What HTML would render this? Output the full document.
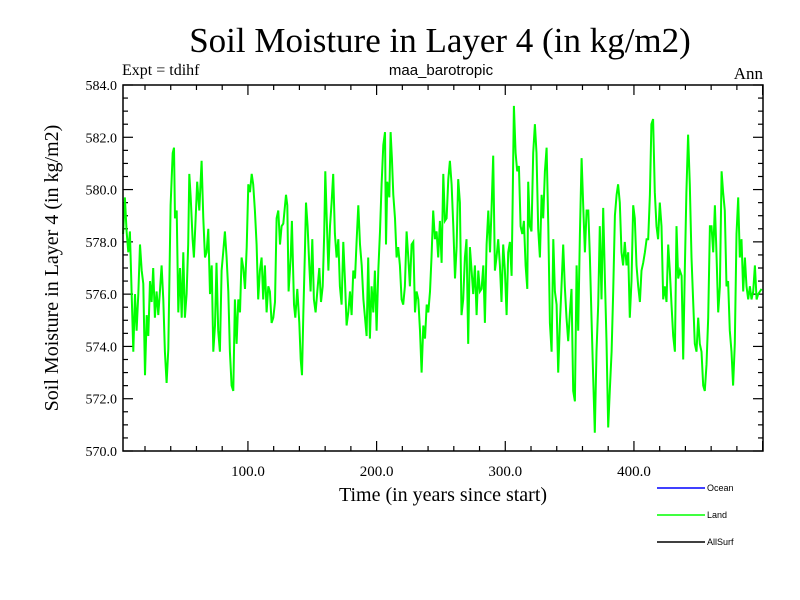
<!DOCTYPE html>
<html><head><meta charset="utf-8"><style>
body{margin:0;background:#fff;}
svg{display:block;}
text{font-family:"Liberation Serif",serif;fill:#000;}
.sans{font-family:"Liberation Sans",sans-serif;}
</style></head><body>
<svg id="chart" width="800" height="600" viewBox="0 0 800 600">
<text x="440" y="52" font-size="35" text-anchor="middle">Soil Moisture in Layer 4 (in kg/m2)</text>
<text x="122" y="75" font-size="16">Expt = tdihf</text>
<text x="441" y="75" font-size="15" text-anchor="middle" class="sans">maa_barotropic</text>
<text x="763" y="79" font-size="17" text-anchor="end">Ann</text>
<text transform="translate(58,268) rotate(-90)" font-size="20" text-anchor="middle">Soil Moisture in Layer 4 (in kg/m2)</text>
<text x="443" y="501" font-size="20" text-anchor="middle">Time (in years since start)</text>
<g id="axes"></g>
<g id="series"></g>
<rect x="123" y="85" width="640" height="366" fill="none" stroke="#000" stroke-width="1.5"/>
<g>
<g><line x1="657" y1="488" x2="705" y2="488" stroke="#0000ff" stroke-width="1.5"/><text x="707" y="491" font-size="9" class="sans">Ocean</text></g>
<g><line x1="657" y1="515" x2="705" y2="515" stroke="#00ff00" stroke-width="1.5"/><text x="707" y="518" font-size="9" class="sans">Land</text></g>
<g><line x1="657" y1="542" x2="705" y2="542" stroke="#000" stroke-width="1.5"/><text x="707" y="545" font-size="9" class="sans">AllSurf</text></g>
</g>
</svg>
<script>
const years = [3,4.4,5.7,7.0,8.3,9.6,10.9,12.2,13.5,14.8,16.1,17.4,18.7,20.0,21.3,22.6,23.9,25.1,26.4,27.7,29.0,30.3,31.6,32.9,34.2,35.5,36.8,38.1,38.9,39.9,41.5,42.5,43.3,44.6,45.9,47.2,48.5,49.8,51.0,52.3,53.6,54.4,55.5,57.0,58.0,59.1,60.6,62.2,64.0,65.3,66.6,67.9,69.2,70.5,71.8,73.1,74.4,75.6,76.9,78.2,79.5,80.8,82.1,83.4,84.7,86.0,87.3,88.6,89.9,91.2,92.5,93.8,95.1,96.4,97.7,99.0,100.3,101.6,102.9,104.1,105.4,106.7,108.0,109.3,110.6,111.9,113.2,114.5,115.8,117.1,118.4,119.7,121.0,122.3,123.6,124.9,126.2,
127.5,129.6,130.6,131.6,133.2,134.2,135.8,136.8,138.4,139.9,141.0,142.0,143.0,144.3,145.1,146.4,147.7,148.7,150.0,151.3,152.6,153.9,155.5,156.8,158.1,159.3,160.1,161.2,162.5,163.8,165.0,166.3,167.6,168.9,170.2,171.5,172.8,174.1,175.4,176.7,178.0,179.3,180.6,181.9,183.2,184.5,185.8,187.1,188.4,189.7,191.0,192.2,193.5,194.8,196.1,197.4,198.7,200.0,201.3,202.6,203.9,205.2,206.5,207.3,208.3,209.9,210.9,211.9,213.0,214.3,215.5,216.8,218.1,219.4,220.7,222.0,223.3,224.6,225.9,227.2,228.5,229.8,231.1,232.4,233.7,235.0,236.3,237.6,238.9,240.2,241.5,242.7,244.0,245.3,246.6,247.9,249.2,250.5,251.8,
253.1,254.4,255.7,257.0,258.3,259.6,260.9,262.2,263.4,264.7,266.0,267.3,268.6,269.9,271.2,272.5,273.8,275.1,276.4,277.7,279.0,280.3,281.6,282.9,284.2,285.5,286.8,288.1,289.3,290.6,291.9,293.2,294.5,295.8,297.1,298.4,299.7,301.0,302.3,303.6,304.9,305.7,306.7,308.0,309.3,310.6,311.9,313.2,314.5,315.8,317.1,317.8,319.1,320.4,321.7,323.0,324.3,325.6,326.9,328.2,329.5,330.8,332.1,333.4,334.7,336.0,337.3,338.6,339.9,341.1,342.4,343.7,345.0,346.3,347.6,348.9,350.2,351.5,352.8,354.1,355.4,356.7,358.0,359.3,360.6,361.9,363.2,364.5,365.8,367.0,368.3,369.6,370.9,372.2,373.5,374.8,376.1,
377.4,378.7,380.0,381.3,382.6,383.9,385.2,386.5,387.7,389.0,390.3,391.6,392.9,394.2,395.5,396.8,398.1,399.4,400.7,402.0,403.3,404.6,405.9,407.2,408.5,409.8,411.1,412.4,413.6,414.9,416.2,417.5,418.8,420.1,421.4,422.7,424.0,425.3,426.6,427.9,429.2,430.5,431.8,433.1,434.4,435.7,437.0,438.3,439.5,440.8,442.1,443.4,444.7,446.0,447.3,448.6,449.9,451.2,452.5,453.8,455.1,456.4,457.7,459.0,460.3,461.6,462.9,464.2,465.5,466.8,468.1,469.3,470.6,471.9,473.2,474.5,475.8,477.1,478.4,479.7,481.0,482.3,483.6,484.9,486.2,487.5,488.8,490.1,491.4,492.7,494.0,495.3,496.6,497.9,499.2];
const land = [578.3,579.7,578.4,577.6,578.4,576.1,573.8,576.0,574.6,576.0,577.9,576.9,576.4,572.9,575.2,574.4,576.5,575.7,577.0,575.1,576.1,575.2,576.1,577.1,575.8,573.8,572.6,573.9,576.3,579.4,581.4,581.6,578.9,579.2,575.3,577.0,575.1,577.6,575.1,576.0,577.9,580.6,579.7,578.1,577.4,578.6,580.3,579.2,581.1,578.9,577.4,577.6,578.5,576.0,577.1,573.8,574.8,577.2,574.6,573.8,576.9,577.6,578.4,577.4,576.1,573.8,572.5,572.3,575.8,574.1,575.8,575.3,577.4,577.0,576.2,577.8,580.2,579.9,580.6,580.2,579.2,577.9,575.8,576.9,577.4,575.8,577.1,575.3,576.3,576.1,574.9,575.1,575.7,578.9,579.2,577.9,578.6,
578.7,579.8,579.4,576.1,577.4,578.8,575.6,575.1,576.2,574.9,573.5,572.9,575.2,577.6,579.5,578.6,577.1,576.1,578.1,575.8,575.3,576.1,577.0,575.7,576.3,578.3,580.7,578.9,576.9,578.6,579.5,580.6,578.3,577.4,578.1,576.3,575.6,578.0,576.5,574.8,575.3,576.1,575.2,576.9,576.6,578.1,579.4,577.9,577.1,575.8,575.1,574.4,577.4,574.3,576.3,575.3,576.9,574.6,576.9,578.4,580.2,581.7,582.2,577.9,580.3,579.7,582.2,581.2,579.8,578.9,577.4,577.8,577.1,575.8,575.6,576.3,578.4,577.4,576.3,577.9,578.0,575.3,576.1,575.8,574.6,573.0,574.8,574.3,575.6,575.3,576.1,577.4,579.2,578.1,578.4,577.4,578.8,577.2,580.6,
578.8,578.9,580.4,581.1,580.2,578.6,576.6,577.8,580.4,579.5,575.2,575.8,577.4,578.1,574.1,577.8,576.9,576.0,577.1,575.2,576.9,576.1,576.2,577.1,574.9,577.9,579.2,577.6,579.2,581.3,576.9,577.4,578.1,577.1,575.7,577.9,576.9,575.2,577.6,578.0,576.7,579.4,583.2,581.4,580.7,580.9,578.6,578.3,578.8,577.1,576.2,580.3,578.6,578.4,581.4,582.5,581.4,578.5,577.4,579.8,578.9,580.7,581.6,578.6,574.9,573.8,578.1,576.1,575.6,573.0,574.8,576.3,577.9,576.3,575.1,574.2,575.3,576.2,572.3,571.9,577.1,574.6,578.3,581.2,579.4,577.6,579.2,579.2,577.4,575.1,572.8,570.7,573.8,575.6,578.6,575.8,579.3,
576.6,574.2,570.9,572.4,573.8,576.1,579.0,579.8,580.2,579.5,577.6,577.1,578.0,577.1,577.6,575.1,576.5,579.4,578.9,577.1,576.3,575.7,576.9,577.2,577.6,578.1,578.1,579.8,582.5,582.7,579.9,578.6,578.1,579.5,578.6,575.8,576.3,575.7,577.9,576.9,575.6,574.4,573.8,578.6,576.6,576.9,576.7,573.5,576.9,579.9,582.1,580.2,577.4,575.8,574.1,573.8,575.1,574.1,573.8,572.5,572.3,573.3,575.1,578.6,578.6,577.6,579.4,577.4,575.3,576.3,580.7,579.9,579.2,576.3,576.5,574.6,573.8,572.5,574.1,578.3,579.7,577.4,578.1,576.1,577.4,576.3,575.8,576.3,575.8,576.1,577.1,575.8,576.0,576.1,576.2];
const yTicks = [570,572,574,576,578,580,582,584];
const yTickLabels = ["570.0","572.0","574.0","576.0","578.0","580.0","582.0","584.0"];
const xTicks = [100,200,300,400];
const xTickLabels = ["100.0","200.0","300.0","400.0"];

const X0=123,X1=763,Y0=451,Y1=85,XMIN=2.9,XMAX=500.3,YMIN=570,YMAX=584;
const xs=v=>X0+(v-XMIN)/(XMAX-XMIN)*(X1-X0);
const ys=v=>Y0-(v-YMIN)/(YMAX-YMIN)*(Y0-Y1);
const NS="http://www.w3.org/2000/svg";
const axes=document.getElementById('axes');
function ln(x1,y1,x2,y2,name){const l=document.createElementNS(NS,'line');l.setAttribute('x1',x1);l.setAttribute('y1',y1);l.setAttribute('x2',x2);l.setAttribute('y2',y2);l.setAttribute('stroke','#000');l.setAttribute('stroke-width','1.2');


axes.appendChild(l);}
for(let v=YMIN;v<=YMAX+1e-6;v+=0.5){const y=ys(v);const major=Math.abs(v-Math.round(v/2)*2)<1e-6;const L=major?10:5;ln(X0,y,X0+L,y,'y-tick');ln(X1,y,X1-L,y,'y-tick-right');}
for(let v=20;v<=XMAX;v+=20){const x=xs(v);const L=(v%100===0)?10:5;ln(x,Y0,x,Y0-L,'x-tick');ln(x,Y1,x,Y1+L,'x-tick-top');}
yTicks.forEach((v,i)=>{const t=document.createElementNS(NS,'text');t.setAttribute('x',X0-6);t.setAttribute('y',ys(v)+5);t.setAttribute('font-size','14');t.setAttribute('text-anchor','end');t.textContent=yTickLabels[i];


axes.appendChild(t);});
xTicks.forEach((v,i)=>{const t=document.createElementNS(NS,'text');t.setAttribute('x',xs(v));t.setAttribute('y',476);t.setAttribute('font-size','15');t.setAttribute('text-anchor','middle');t.textContent=xTickLabels[i];


axes.appendChild(t);});
const p=document.createElementNS(NS,'path');
p.setAttribute('d',years.map((y,i)=>(i?'L':'M')+xs(y).toFixed(1)+','+ys(land[i]).toFixed(1)).join(''));
p.setAttribute('fill','none');p.setAttribute('stroke','#00ff00');p.setAttribute('stroke-width','2');p.setAttribute('stroke-linejoin','miter');


document.getElementById('series').appendChild(p);
</script>
</body></html>
